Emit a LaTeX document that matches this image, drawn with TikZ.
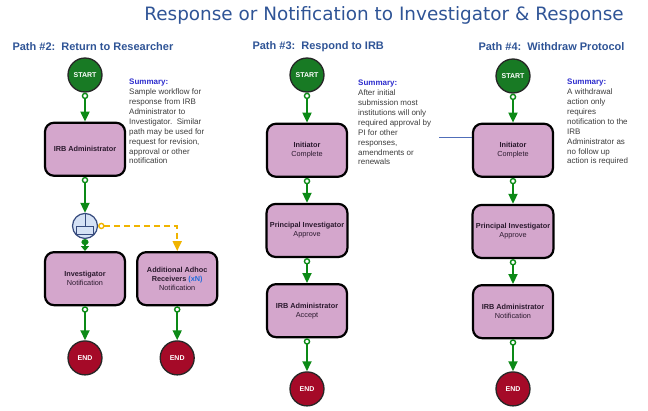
\documentclass[tikz,border=0pt]{standalone}
\usepackage{fontspec}
\setmainfont{Liberation Sans}
\newfontfamily\titlefont{DejaVu Sans}
\usepackage{xcolor}
\usepackage{tikz}
\usetikzlibrary{positioning,arrows.meta}
\definecolor{titleblue}{RGB}{47,84,150}
\definecolor{sumblue}{RGB}{45,45,205}
\definecolor{sumtext}{RGB}{60,60,60}
\definecolor{boxpink}{RGB}{212,166,204}
\definecolor{boxtext}{RGB}{43,26,46}
\definecolor{startgreen}{RGB}{24,122,36}
\definecolor{flowgreen}{RGB}{12,138,22}
\definecolor{endred}{RGB}{165,10,40}
\definecolor{gwblue}{RGB}{214,226,245}
\definecolor{gwline}{RGB}{55,75,125}
\definecolor{adhocyellow}{RGB}{240,180,0}
\definecolor{linkblue}{RGB}{80,110,185}
\newcommand{\act}[1]{{\mdseries #1}}

\begin{document}
\begin{tikzpicture}[x=1pt, y=1pt, node distance=25pt,
  heading/.style={anchor=west, text=titleblue, font=\fontsize{11}{13}\selectfont\bfseries},
  summary/.style={anchor=north west, inner sep=0pt, align=left, text=sumtext, font=\fontsize{8}{9.9}\selectfont},
  task/.style={draw=black, line width=2.2pt, rounded corners=9pt, fill=boxpink, minimum width=80pt,
    minimum height=53pt, align=center, text=boxtext, font=\fontsize{7.3}{9}\selectfont\bfseries},
  start/.style={circle, draw=black!85, line width=1.3pt, fill=startgreen, minimum size=34pt, inner sep=0pt,
    text=white, font=\fontsize{7}{8}\selectfont\bfseries},
  finish/.style={start, fill=endred},
  gateway/.style={circle, draw=gwline, line width=1.2pt, fill=gwblue, minimum size=25pt, inner sep=0pt},
  flow/.style={draw=flowgreen, line width=1.8pt,
    {Circle[open, fill=white, length=6.5pt, width=6.5pt, line width=1.4pt]}-{Triangle[length=10pt, width=9pt]}},
  gwflow/.style={draw=flowgreen, line width=1.8pt, {Circle[length=6pt, width=7pt]}-{Triangle[length=5pt, width=8pt]}},
  adhoc/.style={draw=adhocyellow, line width=1.8pt, dash pattern=on 6pt off 4pt,
    {Circle[open, fill=white, length=6.5pt, width=6.5pt, line width=1.4pt]}-{Triangle[length=10pt, width=9pt]}},
  link/.style={draw=linkblue, line width=0.9pt}]
\useasboundingbox (0,0) rectangle (648,-410);

% Title and headings
\node[text=titleblue, font=\titlefont\fontsize{18.4}{20}\selectfont] (title) at (384,-15)
  {Response or Notification to Investigator \& Response};
\node[heading] (head2) at (9,-47) {Path \#2:\ \ Return to Researcher};
\node[heading] (head3) at (249,-47) {Path \#3:\ \ Respond to IRB};
\node[heading] (head4) at (475,-47) {Path \#4:\ \ Withdraw Protocol};

% Path 2
\node[start] (start2) at (85,-75) {START};
\node[task, below=29pt of start2] (irb2) {IRB Administrator};
\node[gateway, below=36pt of irb2] (gw2) {};
\node[task, below=12pt of gw2] (inv2) {Investigator\\\act{Notification}};
\node[task, right=10pt of inv2] (add2) {Additional Adhoc\\Receivers \textcolor{sumblue!70!cyan}{(xN)}\\\act{Notification}};
\node[finish, below=34pt of inv2] (end2) {END};
\node[finish, below=34pt of add2] (end2b) {END};
\node[summary] (sum2) at (129,-79) {\textcolor{sumblue}{\bfseries Summary:}\\Sample workflow for\\response from IRB\\
  Administrator to\\Investigator.\ \ Similar\\path may be used for\\request for revision,\\approval or other\\notification};

% Path 3
\node[start] (start3) at (307,-75) {START};
\node[task, below=30pt of start3] (init3) {Initiator\\\act{Complete}};
\node[task, below=25pt of init3] (pi3) {Principal Investigator\\\act{Approve}};
\node[task, below=25pt of pi3] (irb3) {IRB Administrator\\\act{Accept}};
\node[finish, below=33pt of irb3] (end3) {END};
\node[summary] (sum3) at (358,-80) {\textcolor{sumblue}{\bfseries Summary:}\\After initial\\submission most\\
  institutions will only\\required approval by\\PI for other\\responses,\\amendments or\\renewals};

% Path 4
\node[start] (start4) at (513,-76) {START};
\node[task, below=29pt of start4] (init4) {Initiator\\\act{Complete}};
\node[task, below=26pt of init4] (pi4) {Principal Investigator\\\act{Approve}};
\node[task, below=25pt of pi4] (irb4) {IRB Administrator\\\act{Notification}};
\node[finish, below=32pt of irb4] (end4) {END};
\node[summary] (sum4) at (567,-79) {\textcolor{sumblue}{\bfseries Summary:}\\A withdrawal\\action only\\requires\\
  notification to the\\IRB\\Administrator as\\no follow up\\action is required};

% Gateway symbol
\draw[gwline, line width=0.9pt] (gw2.north) -- (gw2.center);
\draw[gwline, line width=0.9pt] ([xshift=-8.5pt]gw2.center) rectangle ([xshift=8.5pt, yshift=-8pt]gw2.center);

% Arrows
\draw[flow] (start2) -- (irb2);
\draw[flow] (irb2) -- (gw2);
\draw[gwflow] (gw2) -- (inv2);
\draw[adhoc] (gw2.east) -| (add2.north);
\draw[flow] (inv2) -- (end2);
\draw[flow] (add2) -- (end2b);
\draw[flow] (start3) -- (init3);
\draw[flow] (init3) -- (pi3);
\draw[flow] (pi3) -- (irb3);
\draw[flow] (irb3) -- (end3);
\draw[flow] (start4) -- (init4);
\draw[flow] (init4) -- (pi4);
\draw[flow] (pi4) -- (irb4);
\draw[flow] (irb4) -- (end4);
\coordinate (note3) at (439,-137);
\draw[link] (note3) -- (note3 -| init4.west);
\end{tikzpicture}
\end{document}
